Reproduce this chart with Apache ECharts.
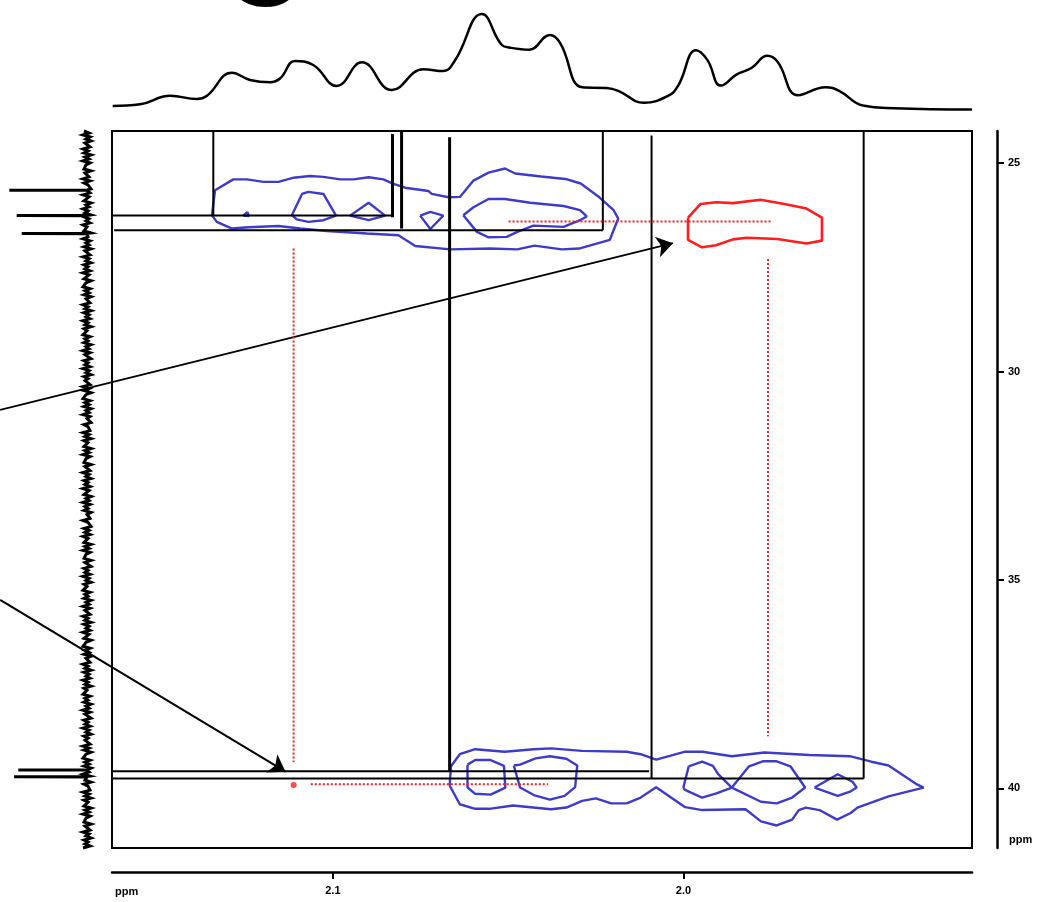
<!DOCTYPE html>
<html>
<head>
<meta charset="utf-8">
<script src="https://cdn.jsdelivr.net/npm/echarts@6/dist/echarts.min.js"></script>
<style>
  html, body { margin: 0; padding: 0; background: #ffffff; }
  #chart { width: 1037px; height: 902px; }
</style>
</head>
<body>
<div id="chart"></div>
<script>
// Chemical-shift ranges of the 2D map (ppm)
const X_MIN = 1.9177, X_MAX = 2.1630;   // 1H
const Y_MIN = 24.23,  Y_MAX = 41.43;    // 13C
const xTicks = [2.1, 2.0];
const yTicks = [25, 30, 35, 40];

// 1H projection: [ppm, intensity]
const projTop = [
  [2.1628, 4], [2.1550, 5.7], [2.1464, 14.3], [2.1388, 11], [2.1359, 14.3],
  [2.1288, 37.3], [2.1236, 30], [2.1179, 27.7], [2.1150, 31.7], [2.1108, 49],
  [2.1056, 45], [2.0989, 24], [2.0917, 47.7], [2.0832, 20], [2.0742, 40.7],
  [2.0685, 39], [2.0651, 50], [2.0575, 96], [2.0518, 65], [2.0494, 62.3],
  [2.0440, 60.3], [2.0381, 75.1], [2.0352, 67.2], [2.0288, 22.7], [2.0220, 22],
  [2.0186, 19.2], [2.0113, 7.3], [2.0044, 14.1], [2.0015, 24.4], [1.9964, 59.7],
  [1.9932, 50.1], [1.9893, 24.4], [1.9849, 35.3], [1.9805, 42.2], [1.9761, 54.2],
  [1.9732, 48.4], [1.9673, 14.8], [1.9595, 22.7], [1.9556, 19.2], [1.9488, 4.5],
  [1.9400, 1.8], [1.9177, 0.4]
];

// 13C projection: baseline noise samples (top to bottom) and resolved peaks [ppm, height]
const projLeftBase = 13;
const projLeftNoise = [
  3, -2, 4, -3, 1, -4, 2, 0, -3, 4, -1, 3, -4, 2, -2, 4, -3, 1, -1, 3,
  -4, 2, 0, -2, 4, -3, 3, -1, 1, -4, 2, -3, 4, -2, 0, 3, -4, 1, -2, 4,
  -1, 2, -4, 3, -2, 1, -3, 4, 0, -2, 3, -4, 2, -1, 4, -3, 1, -2, 3, -4,
  2, 0, -3, 4, -2, 1, -4, 3, -1, 2, -3, 4, -2, 0, 3, -4, 1, -1, 4, -3,
  2, -2, 3, -4, 1, 0, -3, 4, -1, 2, -4, 3, -2, 1, -3, 4, -1, 2, -4, 3,
  0, -2, 4, -3, 2, -1, 3, -4, 1, -2, 4, -3, 2, 0, -4, 3, -1, 2, -3, 4,
  -2, 1, -4, 3, -1, 2, 0, -3, 4, -2, 3, -4, 1, -1, 4, -3, 2, -2, 3, -4,
  1, -2, 4, -3, 0, 2, -4, 3, -1, 1, -3, 4, -2, 2, -4, 3, -1, 0, 3, -4,
  2, -2, 4, -3, 1, -1, 3, -4, 2, 0, -3, 4, -2, 1, -4, 3, -1, 2, -3, 4,
  -2, 0, 3, -4, 1, -2, 4, -3, 2, -1, 3, -4, 0, 2, -3, 4, -1, 1, -4, 3,
  -2, 2, -3, 4, -1, 0, 3, -4, 2, -2, 4, -3, 1, -1, 3, -4, 2, 0, -4, 3,
  -1, 2, -3, 4, -2, 1, -4, 3, 0, -2, 4, -3, 2, -1, 3, -4, 1, -2, 4, -3,
  2, 0, -3, 4, -1, 2, -4, 3, -2, 1, -3, 4, -2, 0, 3, -4, 1, -1, 4, -3,
  2, -2, 3, -4, 1, 0, -3, 4, -1, 2, -4, 3, -2, 1, -3, 4, -1, 2, -4, 3,
  0, -2, 4, -3, 2, -1, 3, -4, 1, -2, 4, -3, 2, 0, -4, 3, -1, 2, -3, 4,
  -2, 1, -4, 3, -1, 2, 0, -3, 4, -2, 3, -4, 1, -1, 4, -3, 2, -2, 3, -4,
  1, -2, 4, -3, 0, 2, -4, 3, -1, 1, -3, 4, -2, 2, -4, 3, -1, 0, 3, -4,
  2, -2, 4, -3, 1, -1, 3, -4, 2, 0, -3, 4, -2, 1, -4, 3, -1, 2, -3, 4
];
const projLeftPeaks = [[25.65, 90.7], [26.26, 83.3], [26.69, 78.3], [39.56, 81.7], [39.72, 86]];

// Cross-peak contours [1H ppm, 13C ppm]
const blueContours = [
  [[2.1345,26.25],[2.1336,25.65],[2.1284,25.39],[2.1245,25.39],[2.1198,25.45],[2.1155,25.45],[2.1112,25.35],[2.1065,25.31],[2.1027,25.33],[2.0979,25.39],[2.0941,25.39],[2.0898,25.34],[2.0856,25.39],[2.0827,25.50],[2.0794,25.59],[2.0727,25.67],[2.0718,25.74],[2.0670,25.82],[2.0637,25.81],[2.0599,25.42],[2.0556,25.23],[2.0551,25.19],[2.0509,25.13],[2.0480,25.25],[2.0406,25.32],[2.0337,25.38],[2.0293,25.49],[2.0240,25.82],[2.0200,26.12],[2.0186,26.33],[2.0210,26.84],[2.0298,27.05],[2.0347,27.07],[2.0425,26.98],[2.0474,27.07],[2.0551,27.05],[2.0665,27.07],[2.0765,26.99],[2.0813,26.73],[2.0903,26.69],[2.1017,26.63],[2.1093,26.57],[2.1155,26.51],[2.1241,26.54],[2.1288,26.57],[2.1331,26.41],[2.1345,26.25]],
  [[2.0628,26.25],[2.0599,26.06],[2.0556,25.86],[2.0509,25.86],[2.0437,25.95],[2.0342,26.03],[2.0295,26.13],[2.0276,26.28],[2.0295,26.37],[2.0342,26.53],[2.0428,26.50],[2.0474,26.65],[2.0504,26.77],[2.0556,26.78],[2.0589,26.65],[2.0628,26.25]],
  [[2.1117,26.25],[2.1088,25.74],[2.1070,25.69],[2.1027,25.74],[2.0991,26.26],[2.1027,26.37],[2.1070,26.41],[2.1103,26.35],[2.1117,26.25]],
  [[2.0951,26.26],[2.0898,25.95],[2.0851,26.26],[2.0898,26.37],[2.0951,26.26]],
  [[2.0751,26.26],[2.0722,26.17],[2.0685,26.26],[2.0722,26.58],[2.0751,26.26]],
  [[2.1256,26.26],[2.1244,26.18],[2.1239,26.27],[2.1256,26.26]],
  [[2.0667,39.93],[2.0663,39.47],[2.0638,39.18],[2.0594,39.06],[2.0510,39.12],[2.0427,39.06],[2.0378,39.04],[2.0289,39.10],[2.0162,39.12],[2.0122,39.18],[2.0078,39.31],[2.0044,39.23],[1.9995,39.12],[1.9946,39.12],[1.9862,39.23],[1.9769,39.14],[1.9641,39.20],[1.9523,39.23],[1.9464,39.36],[1.9415,39.45],[1.9337,39.89],[1.9315,39.98],[1.9415,40.19],[1.9504,40.46],[1.9523,40.59],[1.9562,40.75],[1.9612,40.52],[1.9651,40.46],[1.9671,40.52],[1.9690,40.75],[1.9734,40.89],[1.9779,40.79],[1.9823,40.50],[1.9946,40.52],[1.9995,40.45],[2.0078,39.97],[2.0122,40.22],[2.0162,40.36],[2.0206,40.36],[2.0250,40.24],[2.0289,40.30],[2.0334,40.46],[2.0378,40.50],[2.0486,40.41],[2.0554,40.49],[2.0594,40.49],[2.0638,40.38],[2.0667,39.93]],
  [[2.0616,39.43],[2.0594,39.32],[2.0550,39.32],[2.0512,39.46],[2.0508,39.98],[2.0550,40.15],[2.0594,40.13],[2.0616,39.98],[2.0616,39.43]],
  [[2.0484,39.45],[2.0466,39.43],[2.0422,39.28],[2.0381,39.23],[2.0334,39.29],[2.0303,39.45],[2.0309,39.97],[2.0339,40.18],[2.0381,40.27],[2.0427,40.16],[2.0466,39.98],[2.0484,39.45]],
  [[1.9985,39.47],[1.9947,39.36],[1.9916,39.46],[1.9901,39.66],[1.9862,39.98],[1.9906,40.12],[1.9947,40.22],[1.9997,40.03],[2.0000,39.97],[1.9985,39.47]],
  [[1.9862,39.98],[1.9813,39.47],[1.9774,39.35],[1.9734,39.35],[1.9695,39.47],[1.9653,39.98],[1.9690,40.22],[1.9734,40.36],[1.9779,40.32],[1.9862,39.98]],
  [[1.9626,39.98],[1.9560,39.66],[1.9518,39.84],[1.9506,39.98],[1.9523,40.07],[1.9560,40.18],[1.9626,39.98]]
];
const redContours = [
  [[1.9987,26.31],[1.9951,25.98],[1.9907,25.94],[1.9859,25.96],[1.9780,25.88],[1.9712,25.98],[1.9649,26.09],[1.9605,26.31],[1.9605,26.86],[1.9649,26.93],[1.9732,26.82],[1.9819,26.79],[1.9859,26.83],[1.9907,26.97],[1.9947,27.02],[1.9987,26.84],[1.9987,26.31]]
];
const redPeak = [[2.1112, 39.92]];

// Correlation boxes and guide lines [[x1,y1],[x2,y2]]
const thinLines = [
  [[2.1341, Y_MIN], [2.1341, 26.26]],
  [[2.1692, 26.26], [2.0827, 26.26]],
  [[2.1624, 26.61], [2.0230, 26.61]],
  [[2.0230, Y_MIN], [2.0230, 26.61]],
  [[2.1630, 39.59], [2.0098, 39.59]],
  [[2.0091, 24.34], [2.0091, 39.76]],
  [[2.1630, 39.76], [1.9486, 39.76]],
  [[1.9486, Y_MIN], [1.9486, 39.76]]
];
const heavyLines = [
  [[2.0830, 24.30], [2.0830, 26.30]],
  [[2.0804, 24.25], [2.0804, 26.57]],
  [[2.0667, 24.38], [2.0667, 39.60]]
];
const redDotted = [
  [[2.0499, 26.40], [1.9751, 26.40]],
  [[1.9759, 27.30], [1.9759, 38.75]],
  [[2.1112, 27.05], [2.1112, 39.37]],
  [[2.1063, 39.90], [2.0386, 39.90]]
];
const arrows = [
  [[2.1949, 30.92], [2.0030, 26.92]],
  [[2.1949, 35.48], [2.1135, 39.60]]
];

// Left projection path: baseline samples with the peak spikes inserted
const leftPath = [];
const step = (Y_MAX - Y_MIN) / (projLeftNoise.length - 1);
projLeftNoise.forEach((n, i) => leftPath.push([projLeftBase + n, Y_MIN + i * step]));
projLeftPeaks.forEach(([p, h]) => {
  leftPath.push([projLeftBase, p - 0.004]);
  leftPath.push([h, p]);
  leftPath.push([projLeftBase, p + 0.004]);
});
leftPath.sort((a, b) => a[1] - b[1]);

const BLUE = '#3c3cc8';
const RED = '#ff1c1c';
const FONT = '"Liberation Sans", Arial, sans-serif';

const series = [];
series.push({
  type: 'line', xAxisIndex: 1, yAxisIndex: 1, data: projTop, smooth: 0.45,
  showSymbol: false, silent: true, lineStyle: { color: '#000', width: 2.5 }
});
series.push({
  type: 'line', xAxisIndex: 2, yAxisIndex: 2, data: leftPath, showSymbol: false,
  silent: true, clip: false, lineStyle: { color: '#000', width: 3, join: 'miter' }
});
blueContours.forEach(c => series.push({
  type: 'line', xAxisIndex: 0, yAxisIndex: 0, data: c, showSymbol: false, silent: true,
  lineStyle: { color: BLUE, width: 2.4 }
}));
redContours.forEach(c => series.push({
  type: 'line', xAxisIndex: 0, yAxisIndex: 0, data: c, showSymbol: false, silent: true,
  lineStyle: { color: RED, width: 2.6 }
}));
series.push({
  type: 'scatter', xAxisIndex: 0, yAxisIndex: 0, data: redPeak, symbol: 'circle',
  symbolSize: 6, silent: true, itemStyle: { color: RED }
});
thinLines.forEach(l => series.push({
  type: 'line', xAxisIndex: 0, yAxisIndex: 0, data: l, showSymbol: false, silent: true,
  clip: false, lineStyle: { color: '#000', width: 2 }
}));
heavyLines.forEach(l => series.push({
  type: 'line', xAxisIndex: 0, yAxisIndex: 0, data: l, showSymbol: false, silent: true,
  clip: false, lineStyle: { color: '#000', width: 3 }
}));
redDotted.forEach(l => series.push({
  type: 'line', xAxisIndex: 0, yAxisIndex: 0, data: l, showSymbol: false, silent: true,
  lineStyle: { color: RED, width: 2, type: [2, 2] }
}));
series.push({
  type: 'lines', coordinateSystem: 'cartesian2d', xAxisIndex: 0, yAxisIndex: 0,
  clip: false, silent: true, symbol: ['none', 'arrow'], symbolSize: 16,
  lineStyle: { color: '#000', width: 2, opacity: 1, curveness: 0 },
  data: arrows.map(a => ({ coords: a }))
});

const chart = echarts.init(document.getElementById('chart'), null, { renderer: 'canvas' });
chart.setOption({
  animation: false,
  backgroundColor: '#ffffff',
  grid: [
    { left: 112, top: 131, width: 860, height: 717, show: true, borderColor: '#000', borderWidth: 2, backgroundColor: 'transparent' },
    { left: 112, top: 0, width: 860, height: 110 },
    { left: 0, top: 131, width: 100, height: 717 }
  ],
  xAxis: [
    {
      gridIndex: 0, type: 'value', min: X_MIN, max: X_MAX, inverse: true,
      position: 'bottom', offset: 24,
      axisLine: { show: true, onZero: false, lineStyle: { color: '#000', width: 2.5 } },
      axisTick: { show: true, customValues: xTicks, length: 7, lineStyle: { color: '#000', width: 2 } },
      axisLabel: {
        show: true, customValues: xTicks, margin: 13, color: '#000',
        fontFamily: FONT, fontWeight: 'bold', fontSize: 11,
        formatter: v => v.toFixed(1)
      },
      splitLine: { show: false }
    },
    { gridIndex: 1, type: 'value', min: X_MIN, max: X_MAX, inverse: true, show: false },
    { gridIndex: 2, type: 'value', min: 0, max: 100, inverse: true, show: false }
  ],
  yAxis: [
    {
      gridIndex: 0, type: 'value', min: Y_MIN, max: Y_MAX, inverse: true,
      position: 'right', offset: 25,
      axisLine: { show: true, onZero: false, lineStyle: { color: '#000', width: 2.5 } },
      axisTick: { show: true, customValues: yTicks, length: 7, lineStyle: { color: '#000', width: 2 } },
      axisLabel: {
        show: true, customValues: yTicks, margin: 11, color: '#000',
        fontFamily: FONT, fontWeight: 'bold', fontSize: 11
      },
      splitLine: { show: false }
    },
    { gridIndex: 1, type: 'value', min: 0, max: 110, show: false },
    { gridIndex: 2, type: 'value', min: Y_MIN, max: Y_MAX, inverse: true, show: false }
  ],
  graphic: {
    elements: [
      {
        type: 'text', left: 115, top: 886, silent: true,
        style: { text: 'ppm', fill: '#000', font: 'bold 11px ' + FONT }
      },
      {
        type: 'text', left: 1009, top: 834, silent: true,
        style: { text: 'ppm', fill: '#000', font: 'bold 11px ' + FONT }
      },
      {
        // panel letter, mostly above the top edge
        type: 'text', left: 223, top: -79, z: 10, silent: true,
        style: { text: 'C', fill: '#000', fontSize: 110, fontWeight: 'bold', fontFamily: FONT }
      }
    ]
  },
  series: series
});
</script>
</body>
</html>
